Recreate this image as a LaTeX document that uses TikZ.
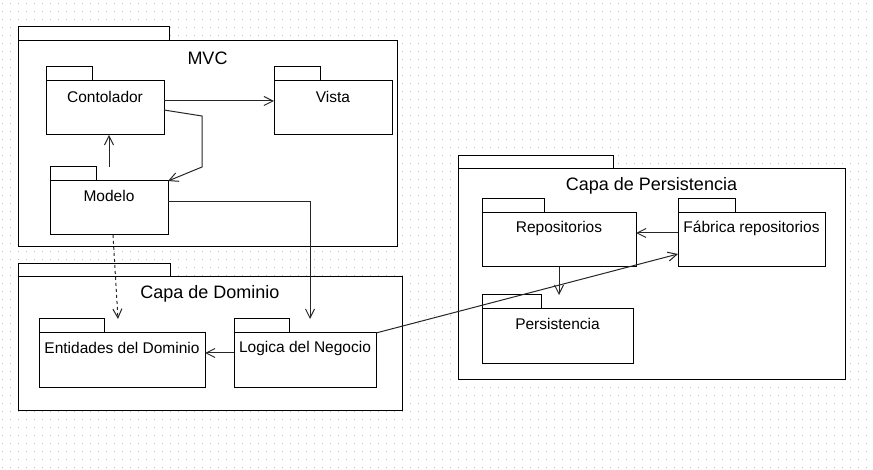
\documentclass[tikz,border=0pt]{standalone}
\usepackage{fontspec}
\setmainfont{Liberation Sans}
\usetikzlibrary{arrows.meta}

\begin{document}
\begin{tikzpicture}[x=1pt, y=-1pt, line width=1pt, >={Straight Barb[length=9pt,width=9pt]},
	griddot/.style={black!25, line width=1pt, dash pattern=on 1pt off 7pt},
	pkg/.style={draw=black, fill=white, line width=1pt, inner sep=0pt, outer sep=0pt, minimum height=54, anchor=north west},
	pkgtab/.style={draw=black, fill=white, line width=1pt, inner sep=0pt, outer sep=0pt, minimum height=14, anchor=south west},
	pkgname/.style={inner sep=0pt, font=\fontsize{15.5}{18}\selectfont},
	pkgtitle/.style={inner sep=0pt, font=\fontsize{18}{21}\selectfont},
	conn/.style={->, color=black!85, line width=1pt}]
	\fill[white] (0,0) rectangle (873,470);
	\useasboundingbox (0,0) rectangle (873,470);
	\foreach \y in {3.5,11.5,...,467.5}
		\draw[griddot] (2,\y) -- (873,\y);

	% outer packages
	\node[pkg, minimum width=379, minimum height=206](mvc) at (18,41){};
	\node[pkgtab, minimum width=151](mvctab) at (mvc.north west){};
	\node[pkgtitle](mvcname) at ([yshift=-17]mvc.north){MVC};
	\node[pkg, minimum width=384, minimum height=133](dominio) at (18,277){};
	\node[pkgtab, minimum width=152, minimum height=13](dominiotab) at (dominio.north west){};
	\node[pkgtitle](dominioname) at ([yshift=-17]dominio.north){Capa de Dominio};
	\node[pkg, minimum width=387, minimum height=210](capapersistencia) at (458,169){};
	\node[pkgtab, minimum width=155, minimum height=13](capapersistenciatab) at (capapersistencia.north west){};
	\node[pkgtitle](capapersistencianame) at ([yshift=-17]capapersistencia.north){Capa de Persistencia};

	% inner packages
	\node[pkg, minimum width=118](contolador) at (46,81){};
	\node[pkgtab, minimum width=46](contoladortab) at (contolador.north west){};
	\node[pkgname](contoladorname) at ([yshift=-16]contolador.north){Contolador};
	\node[pkg, minimum width=118](vista) at (274,81){};
	\node[pkgtab, minimum width=46](vistatab) at (vista.north west){};
	\node[pkgname](vistaname) at ([yshift=-16]vista.north){Vista};
	\node[pkg, minimum width=118](modelo) at (50,181){};
	\node[pkgtab, minimum width=46](modelotab) at (modelo.north west){};
	\node[pkgname](modeloname) at ([yshift=-15]modelo.north){Modelo};
	\node[pkg, minimum width=166](entidades) at (39,333){};
	\node[pkgtab, minimum width=65](entidadestab) at (entidades.north west){};
	\node[pkgname](entidadesname) at ([yshift=-15]entidades.north){Entidades del Dominio};
	\node[pkg, minimum width=142](logica) at (234,333){};
	\node[pkgtab, minimum width=55](logicatab) at (logica.north west){};
	\node[pkgname](logicaname) at ([yshift=-15]logica.north){Logica del Negocio};
	\node[pkg, minimum width=154](repositorios) at (482,213){};
	\node[pkgtab, minimum width=62](repositoriostab) at (repositorios.north west){};
	\node[pkgname](repositoriosname) at ([yshift=-15]repositorios.north){Repositorios};
	\node[pkg, minimum width=147](fabrica) at (678,213){};
	\node[pkgtab, minimum width=57](fabricatab) at (fabrica.north west){};
	\node[pkgname](fabricaname) at ([yshift=-15]fabrica.north){Fábrica repositorios};
	\node[pkg, minimum width=151](persistencia) at (482,309){};
	\node[pkgtab, minimum width=59](persistenciatab) at (persistencia.north west){};
	\node[pkgname](persistencianame) at ([yshift=-15]persistencia.north){Persistencia};

	% dependencies
	\draw [conn] ([yshift=7]contolador.east) -- ([yshift=7]vista.west);
	\draw [conn] ([yshift=-2]contolador.east) -- (202,116) -- (202,167) -- (modelo.north east);
	\draw [conn] (modelo.north |- modelotab.north) -- (modelo.north |- contolador.south);
	\draw [conn] ([yshift=6]modelo.east) -| ([xshift=5]logica.north |- logicatab.north);
	\draw [conn, dashed] ([xshift=4]modelo.south) -- ([xshift=-4]entidades.north |- entidadestab.north);
	\draw [conn] ([yshift=7]logica.west) -- ([yshift=7]entidades.east);
	\draw [conn] (logica.north east) -- ([yshift=-14]fabrica.west);
	\draw [conn] ([yshift=7]fabrica.west) -- ([yshift=7]repositorios.east);
	\draw [conn] (repositorios.south) -- (repositorios.south |- persistenciatab.north);
\end{tikzpicture}
\end{document}
